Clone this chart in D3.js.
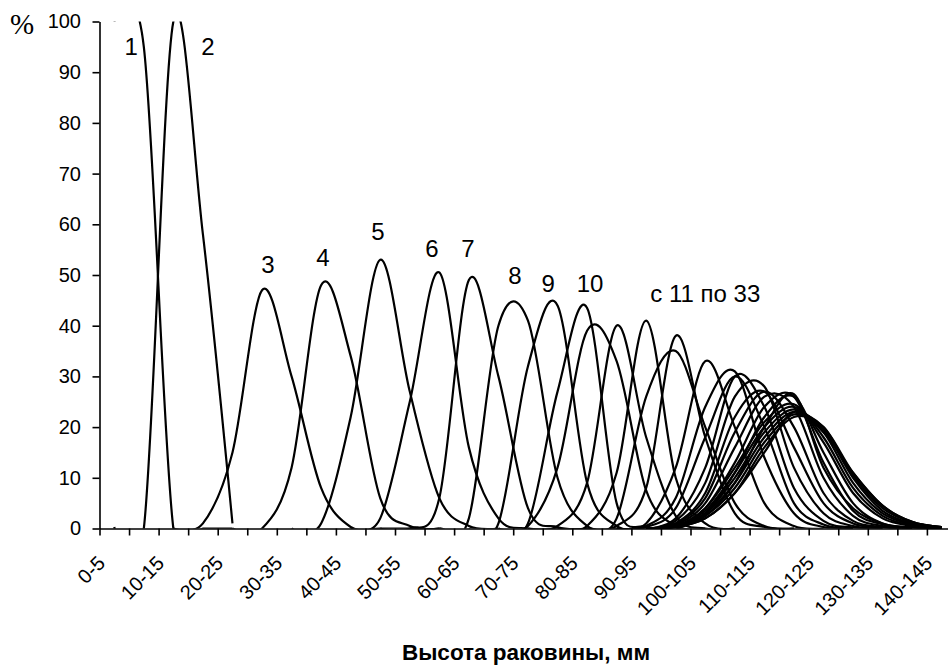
<!DOCTYPE html>
<meta charset="utf-8">
<html>
<head>
<style>
body { margin: 0; background: #fff; }
svg { display: block; font-family: "Liberation Sans", Arial, sans-serif; }
.axis path, .axis line { stroke: #000; stroke-width: 1.6; }
.axis text { font-size: 20px; fill: #000; }
.curve { fill: none; stroke: #000; stroke-width: 2.2; stroke-linejoin: round; }
.slabel { font-size: 24px; fill: #000; }
</style>
</head>
<body>
<svg id="chart" width="948" height="671"></svg>
<script src="https://cdn.jsdelivr.net/npm/d3@7"></script>
<script>

// size classes, mm
const categories = ["0-5","5-10","10-15","15-20","20-25","25-30","30-35","35-40","40-45","45-50",
  "50-55","55-60","60-65","65-70","70-75","75-80","80-85","85-90","90-95","95-100",
  "100-105","105-110","110-115","115-120","120-125","125-130","130-135","135-140","140-145","145-150"]

// only every second class is labelled on the axis
const shownLabels = ["0-5","10-15","20-25","30-35","40-45","50-55","60-65","70-75","80-85","90-95",
  "100-105","110-115","120-125","130-135","140-145"]

const yTicks = [0,10,20,30,40,50,60,70,80,90,100]

// first class index of each series
const seriesStart = [0,0,2,4,6,8,9,10,12,13, 13,14,15,15,16,17,17,17,18,18,18,18,18,18,19,19,18,18,18,18,18,18,18]

// % per class, starting at seriesStart
const seriesValues = [
  [100,95,0,0,0],                          // 1
  [0.3,0,100,58,1],                        // 2
  [0,1,15,47,30,8,0.3,0,0],                // 3
  [0,0,12,48,34,6,0.5,0],                  // 4
  [0,1,22,53,27,6,0.5,0],                  // 5
  [0,2,25,50.5,16,2,0,0],                  // 6
  [0,0,6,49,30,4,0.3,0],                   // 7
  [0,0,2,40,41,10,0.5,0],                  // 8
  [0,1,32,44,9,0.5,0],                     // 9
  [0,1,27,43.5,5,0.3,0],                   // 10
  [0,0.5,12,39,33,7.5,0.5,0],              // 11
  [0,0.5,9,40,18,2.5,0,0],                 // 12
  [0,0.5,11,41,10,1,0],                    // 13
  [0,0,2,26,35,20,5,0.5,0],                // 14
  [0,0.5,8,38,18,3,0.3,0],                 // 15
  [0,1,12,33,20,5,0.5,0],                  // 16
  [0,0.5,6,24,31,14,3,0.3,0],              // 17
  [0,0.3,4,18,30,20,5,0.8,0],              // 18
  [0,2,12,30,24,8,1.5,0.2,0],              // 19
  [0,1.5,9,26,28,12,3,0.5,0],              // 20
  [0,1,7,22,27,16,5,1,0.2,0],              // 21
  [0,1,6,19,27,20,7,1.5,0.3,0],            // 22
  [0,0.8,5,16,26,24,10,2.5,0.5,0],         // 23
  [0,0.5,4,13,24,26,13,3.5,0.8,0.2,0],     // 24
  [0,3,11,22,26,15,5,1,0.2,0],             // 25
  [0,2.5,9,20,26.5,12,4,1,0.2,0],          // 26
  [0,0.5,4,12,21,24.5,17,7,2,0.5,0.1],     // 27
  [0,0.5,3.5,11,20,24,18,8,2.5,0.6,0.1],   // 28
  [0,0.5,3,10,19,23.5,19,9,3,0.8,0.2],     // 29
  [0,0.4,3,9,18,23,19.5,10,3.5,1,0.2],     // 30
  [0,0.3,2.5,8,17,22.5,20,10.5,4,1.2,0.3], // 31
  [0,0.3,2,7,16,22,20,11,4.5,1.3,0.3],     // 32
  [0,0.3,2,7,15,23,19,11,4.5,1.3,0.3]      // 33
]

// series captions, placed in data units (class index, %)
const seriesLabels = ["1","2","3","4","5","6","7","8","9","10","с 11 по 33"]
const labelAt = [[0.57,95],[3.17,95],[5.2,52],[7.06,53.5],[8.92,58.5],[10.75,55.3],[11.97,55.3],
  [13.56,50],[14.68,48.4],[16.1,48.4],[20.0,46.4]]

const svg = d3.select("#chart")
const plotLeft = 99.5, plotTop = 21.5, plotBottom = 528.5, step = 29.55

const x = d3.scaleLinear().domain([0, categories.length]).range([plotLeft, plotLeft + categories.length * step])
const y = d3.scaleLinear().domain([0, 100]).range([plotBottom, plotTop])

svg.append("defs").append("clipPath").attr("id", "plot")
  .append("rect").attr("x", plotLeft).attr("y", plotTop)
  .attr("width", x.range()[1] - plotLeft).attr("height", plotBottom - plotTop)

// x axis: ticks between classes
svg.append("g").attr("class", "axis")
  .attr("transform", "translate(0," + plotBottom + ")")
  .call(d3.axisBottom(x).tickValues(d3.range(0, categories.length + 1)).tickFormat("").tickSize(7).tickSizeOuter(0))

svg.append("g").selectAll("text")
  .data(shownLabels)
  .enter().append("text")
  .attr("font-size", 20)
  .attr("text-anchor", "end")
  .attr("transform", (d) => "translate(" + (x(categories.indexOf(d) + 0.5) - 8) + "," + (plotBottom + 36) + ") rotate(-45)")
  .text((d) => d)

// y axis
svg.append("g").attr("class", "axis")
  .attr("transform", "translate(" + plotLeft + ",0)")
  .call(d3.axisLeft(y).tickValues(yTicks).tickSize(7).tickPadding(11.5).tickSizeOuter(0))

// smoothed lines
const line = d3.line()
  .x((d) => x(d.i + 0.5))
  .y((d) => y(d.v))
  .curve(d3.curveCardinal.tension(0))

svg.append("g").attr("clip-path", "url(#plot)")
  .selectAll("path")
  .data(seriesValues)
  .enter().append("path")
  .attr("class", "curve")
  .attr("d", (vals, k) => line(vals.map((v, j) => ({ i: seriesStart[k] + j, v: v }))))

svg.append("g").selectAll("text")
  .data(seriesLabels)
  .enter().append("text")
  .attr("class", "slabel")
  .attr("text-anchor", "middle")
  .attr("dominant-baseline", "central")
  .attr("x", (d, i) => x(labelAt[i][0] + 0.5))
  .attr("y", (d, i) => y(labelAt[i][1]))
  .text((d) => d)

svg.append("text")
  .attr("x", 10).attr("y", 34)
  .attr("font-family", "'Liberation Serif', 'Times New Roman', serif")
  .attr("font-size", 29)
  .text("%")

svg.append("text")
  .attr("x", 526).attr("y", 660)
  .attr("text-anchor", "middle")
  .attr("font-size", 22.5)
  .attr("font-weight", "bold")
  .text("Высота раковины, мм")

</script>
</body>
</html>
